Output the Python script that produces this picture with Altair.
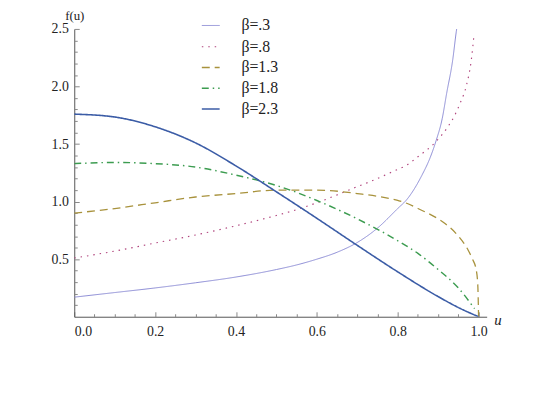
import altair as alt
import pandas as pd

# ---- data ----
labels = ["β=.3", "β=.8", "β=1.3", "β=1.8", "β=2.3"]

b03_u = [0.0, 0.1, 0.2, 0.3, 0.4, 0.5, 0.55, 0.6, 0.65, 0.7, 0.75, 0.8, 0.823, 0.86, 0.88, 0.895, 0.91, 0.921, 0.936, 0.945, 0.948]
b03_f = [0.17, 0.21, 0.25, 0.295, 0.345, 0.41, 0.45, 0.50, 0.56, 0.645, 0.77, 0.94, 1.02, 1.23, 1.38, 1.53, 1.72, 1.94, 2.23, 2.48, 2.55]

b08_u = [0.0, 0.1, 0.2, 0.3, 0.4, 0.5, 0.55, 0.6, 0.7, 0.729, 0.8, 0.819, 0.85, 0.897, 0.92, 0.941, 0.955, 0.970, 0.982, 0.989]
b08_f = [0.51, 0.57, 0.64, 0.71, 0.79, 0.88, 0.93, 0.99, 1.13, 1.17, 1.28, 1.31, 1.39, 1.53, 1.63, 1.75, 1.86, 2.01, 2.23, 2.46]

b13_u = [0.0, 0.1, 0.2, 0.3, 0.4, 0.5, 0.55, 0.6, 0.7, 0.8, 0.819, 0.85, 0.9, 0.917, 0.95, 0.974, 0.985, 0.994, 0.998, 1.0]
b13_f = [0.90, 0.94, 0.99, 1.04, 1.07, 1.10, 1.10, 1.10, 1.07, 1.01, 0.99, 0.94, 0.85, 0.81, 0.70, 0.58, 0.50, 0.41, 0.28, 0.0]

b18_u = [0.0, 0.1, 0.2, 0.3, 0.4, 0.5, 0.55, 0.6, 0.7, 0.8, 0.85, 0.9, 0.95, 0.99]
b18_f = [1.33, 1.34, 1.33, 1.30, 1.23, 1.14, 1.08, 1.01, 0.85, 0.66, 0.55, 0.41, 0.25, 0.07]

b23_u = [0.0, 0.1, 0.2, 0.3, 0.4, 0.5, 0.6, 0.7, 0.8, 0.9, 0.95, 1.0]
b23_f = [1.76, 1.735, 1.65, 1.51, 1.31, 1.085, 0.855, 0.62, 0.39, 0.175, 0.08, 0.0]

x_ticks = [0.0, 0.2, 0.4, 0.6, 0.8, 1.0]
y_ticks = [0.5, 1.0, 1.5, 2.0, 2.5]
x_minor = [round(i * 0.05, 2) for i in range(21)]
y_minor = [round(i * 0.1, 1) for i in range(1, 26)]

series = [(labels[0], b03_u, b03_f), (labels[1], b08_u, b08_f), (labels[2], b13_u, b13_f),
          (labels[3], b18_u, b18_f), (labels[4], b23_u, b23_f)]
rows = []
for name, us, fs in series:
    for i, (u, f) in enumerate(zip(us, fs)):
        rows.append({"beta": name, "u": u, "f": f, "order": i})
df = pd.DataFrame(rows)

colors = ["#8c8cd4", "#b0437c", "#a8923c", "#3c9c50", "#3b5ca6"]
dashes = [[1, 0], [1.5, 5], [8, 5], [7, 4, 1.5, 4], [1, 0]]
widths = [1.0, 1.6, 1.3, 1.3, 3.0]

serif = "'Liberation Serif', 'Times New Roman', Times, serif"
xscale = alt.Scale(domain=[0, 1.02], nice=False, zero=False)
yscale = alt.Scale(domain=[0, 2.5], nice=False, zero=False)

major_x = "abs(datum.value*5 - round(datum.value*5)) < 0.001"
major_y = "abs(datum.value*2 - round(datum.value*2)) < 0.001"

lines = alt.Chart(df).mark_line(clip=True, interpolate="monotone").encode(
    x=alt.X("u:Q", scale=xscale,
            axis=alt.Axis(values=x_ticks, format=".1f", ticks=False, grid=False,
                          domainColor="#555555", labelFont=serif, labelFontSize=14,
                          labelColor="#222222", labelPadding=8,
                          title="u", titleFont=serif, titleFontSize=15,
                          titleFontStyle="italic", titleFontWeight="normal",
                          titleColor="#222222", titleX=428, titleY=3,
                          titleBaseline="middle", titleAlign="center")),
    y=alt.Y("f:Q", scale=yscale,
            axis=alt.Axis(values=y_ticks, format=".1f", ticks=False, grid=False,
                          domainColor="#555555", labelFont=serif, labelFontSize=14,
                          labelColor="#222222", labelPadding=6,
                          title="f(u)", titleFont=serif, titleFontSize=13,
                          titleFontWeight="normal", titleColor="#222222",
                          titleAngle=0, titleX=0, titleY=-10,
                          titleAlign="center", titleBaseline="alphabetic")),
    color=alt.Color("beta:N", sort=labels,
                    scale=alt.Scale(domain=labels, range=colors),
                    legend=alt.Legend(title=None, orient="none", legendX=128, legendY=-13,
                                      symbolType="stroke", symbolSize=324,
                                      symbolStrokeWidth=1.3, labelFont=serif,
                                      labelFontSize=16, labelColor="#222222",
                                      labelOffset=21, rowPadding=3)),
    strokeDash=alt.StrokeDash("beta:N", sort=labels,
                              scale=alt.Scale(domain=labels, range=dashes)),
    strokeWidth=alt.StrokeWidth("beta:N", sort=labels,
                                scale=alt.Scale(domain=labels, range=widths), legend=None),
    order="order:Q",
)

ticks = alt.Chart(df).mark_line(opacity=0).encode(
    x=alt.X("u:Q", scale=xscale,
            axis=alt.Axis(orient="top", offset=-291, values=x_minor, labels=False,
                          domain=False, grid=False, title=None, tickColor="#888888",
                          tickSize={"condition": {"test": major_x, "value": 5}, "value": 3})),
    y=alt.Y("f:Q", scale=yscale,
            axis=alt.Axis(orient="right", offset=-417, values=y_minor, labels=False,
                          domain=False, grid=False, title=None, tickColor="#888888",
                          tickSize={"condition": {"test": major_y, "value": 5}, "value": 3})),
    detail="beta:N",
)

chart = alt.layer(lines, ticks).resolve_axis(x="independent", y="independent").properties(
    width=417, height=291,
    autosize=alt.AutoSizeParams(type="none"),
    padding={"left": 67, "top": 19, "right": 60, "bottom": 80},
    background="white",
).configure_view(stroke=None)

chart.save("out.html", embed_options={"renderer": "svg", "actions": False})
